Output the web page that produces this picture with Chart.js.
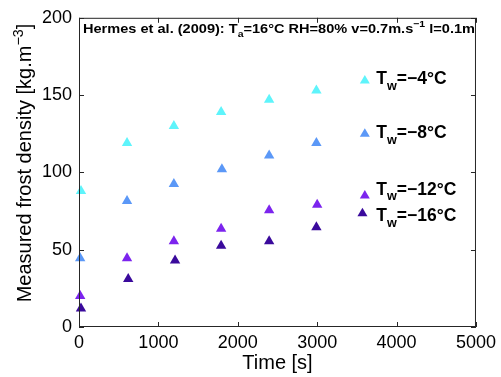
<!DOCTYPE html>
<html>
<head>
<meta charset="utf-8">
<script src="https://cdn.jsdelivr.net/npm/chart.js@4/dist/chart.umd.min.js"></script>
<style>
html, body { margin: 0; padding: 0; background: #fff; }
#wrap { width: 501px; height: 377px; }
</style>
</head>
<body>
<div id="wrap"><canvas id="frost-graph"></canvas></div>
<script>
// Hermes et al. (2009) frost density measurements
var timeM4  = [25, 605, 1195, 1790, 2395, 2990];
var rhoM4   = [88, 119, 130, 139, 147, 153];
var timeM8  = [15, 605, 1195, 1800, 2395, 2990];
var rhoM8   = [44.5, 81.5, 92.5, 102, 111, 119];
var timeM12 = [15, 605, 1195, 1790, 2395, 3000];
var rhoM12  = [20, 44.5, 55.5, 63.5, 75.5, 79];
var timeM16 = [25, 620, 1210, 1790, 2395, 2990];
var rhoM16  = [12, 31, 43, 52.5, 55.5, 64.5];

var wallTemps = ['−4', '−8', '−12', '−16'];
var colours = ['#5ef4fb', '#5b98f7', '#7c24ee', '#3a0a9c'];
var xTicks = [0, 1000, 2000, 3000, 4000, 5000];
var yTicks = [0, 50, 100, 150, 200];

function pts(xs, ys) {
    return xs.map(function (x, i) { return { x: x, y: ys[i] }; });
}

// text with sub/superscripts: parts = [[text, 'n'|'sub'|'sup'], ...]
function richWidth(ctx, parts, size, weight) {
    var w = 0;
    parts.forEach(function (p) {
        var s = p[1] === 'n' ? size : size * 0.72;
        ctx.font = weight + ' ' + s + 'px "Liberation Sans", Arial, sans-serif';
        w += ctx.measureText(p[0]).width;
    });
    return w;
}
function drawRich(ctx, x, y, parts, size, weight) {
    ctx.textBaseline = 'alphabetic';
    ctx.textAlign = 'left';
    parts.forEach(function (p) {
        var s = p[1] === 'n' ? size : size * 0.72;
        var dy = p[1] === 'sub' ? size * 0.32 : (p[1] === 'sup' ? -size * 0.42 : 0);
        ctx.font = weight + ' ' + s + 'px "Liberation Sans", Arial, sans-serif';
        ctx.fillText(p[0], x, y + dy);
        x += ctx.measureText(p[0]).width;
    });
}

var decorations = {
    id: 'decorations',
    afterDraw: function (chart) {
        var ctx = chart.ctx, a = chart.chartArea;
        var xs = chart.scales.x, ys = chart.scales.y;
        ctx.save();
        ctx.strokeStyle = '#262626';
        ctx.lineWidth = 1;
        ctx.strokeRect(a.left + 0.5, a.top + 0.5, a.right - a.left - 1, a.bottom - a.top - 1);
        ctx.beginPath();
        xTicks.forEach(function (v) {
            var px = Math.round(xs.getPixelForValue(v)) + 0.5;
            ctx.moveTo(px, a.bottom); ctx.lineTo(px, a.bottom - 5);
            ctx.moveTo(px, a.top); ctx.lineTo(px, a.top + 5);
        });
        yTicks.forEach(function (v) {
            var py = Math.round(ys.getPixelForValue(v)) + 0.5;
            ctx.moveTo(a.left, py); ctx.lineTo(a.left + 5, py);
            ctx.moveTo(a.right, py); ctx.lineTo(a.right - 5, py);
        });
        ctx.stroke();

        ctx.fillStyle = '#000';
        // title inside the axes, stretched to the box width like the original
        var tParts = [
            ['Hermes et al. (2009): T', 'n'], ['a', 'sub'],
            ['=16°C RH=80% v=0.7m.s', 'n'], ['−1', 'sup'], [' l=0.1m', 'n']
        ];
        var tw = richWidth(ctx, tParts, 13, 'bold');
        ctx.save();
        ctx.translate(a.left + 4, a.top + 15);
        ctx.scale((a.right - a.left - 5) / tw, 1);
        drawRich(ctx, 0, 0, tParts, 13, 'bold');
        ctx.restore();

        // legend labels
        var rows = chart.options.plugins.decorations.rows;
        rows.forEach(function (r, i) {
            var mx = xs.getPixelForValue(r.markX), my = ys.getPixelForValue(r.markY);
            ctx.fillStyle = colours[i];
            ctx.beginPath();
            ctx.moveTo(mx, my - 5.5);
            ctx.lineTo(mx + 5, my + 3);
            ctx.lineTo(mx - 5, my + 3);
            ctx.closePath();
            ctx.fill();
            ctx.fillStyle = '#000';
            drawRich(ctx, xs.getPixelForValue(r.textX), ys.getPixelForValue(r.textY),
                [['T', 'n'], ['w', 'sub'], ['=' + wallTemps[i] + '°C', 'n']], 17.5, 'bold');
        });

        // axis titles
        ctx.font = '20px "Liberation Sans", Arial, sans-serif';
        ctx.textAlign = 'center';
        ctx.textBaseline = 'alphabetic';
        ctx.fillText('Time [s]', (a.left + a.right) / 2, 369);

        var yParts = [['Measured frost density [kg.m', 'n'], ['−3', 'sup'], [']', 'n']];
        var w = richWidth(ctx, yParts, 20, 'normal');
        ctx.translate(31, 163);
        ctx.rotate(-Math.PI / 2);
        drawRich(ctx, -w / 2, 0, yParts, 20, 'normal');
        ctx.restore();
    }
};

function series(i, xs, ys) {
    return {
        label: 'Tw=' + wallTemps[i] + '°C',
        data: pts(xs, ys),
        pointStyle: 'triangle',
        pointRadius: 6,
        pointHoverRadius: 6,
        backgroundColor: colours[i],
        borderColor: colours[i],
        borderWidth: 0,
        clip: false
    };
}

var ctx = document.getElementById('frost-graph').getContext('2d');
new Chart(ctx, {
    type: 'scatter',
    data: {
        datasets: [
            series(0, timeM4, rhoM4),
            series(1, timeM8, rhoM8),
            series(2, timeM12, rhoM12),
            series(3, timeM16, rhoM16)
        ]
    },
    options: {
        responsive: true,
        maintainAspectRatio: false,
        animation: false,
        layout: { padding: { left: 0, right: 23, top: 14, bottom: 0 } },
        plugins: {
            legend: { display: false },
            tooltip: { enabled: false },
            decorations: {
                rows: [
                    { markX: 3600, markY: 159.5, textX: 3745, textY: 157 },
                    { markX: 3600, markY: 125, textX: 3745, textY: 122 },
                    { markX: 3600, markY: 85, textX: 3745, textY: 85.5 },
                    { markX: 3570, markY: 73.5, textX: 3745, textY: 68.5 }
                ]
            }
        },
        scales: {
            x: {
                type: 'linear',
                min: 0, max: 5000,
                afterBuildTicks: function (s) { s.ticks = xTicks.map(function (v) { return { value: v }; }); },
                afterFit: function (s) { s.height = 50; },
                grid: { display: false, drawTicks: false },
                border: { display: false },
                ticks: {
                    color: '#000', padding: 5, maxRotation: 0,
                    font: { family: '"Liberation Sans", Arial', size: 18 },
                    callback: function (v) { return String(v); }
                }
            },
            y: {
                min: 0, max: 200,
                afterBuildTicks: function (s) { s.ticks = yTicks.map(function (v) { return { value: v }; }); },
                afterFit: function (s) { s.width = 79; },
                grid: { display: false, drawTicks: false },
                border: { display: false },
                ticks: {
                    color: '#000', padding: 7,
                    font: { family: '"Liberation Sans", Arial', size: 18 },
                    callback: function (v) { return String(v); }
                }
            }
        }
    },
    plugins: [decorations]
});
</script>
</body>
</html>
